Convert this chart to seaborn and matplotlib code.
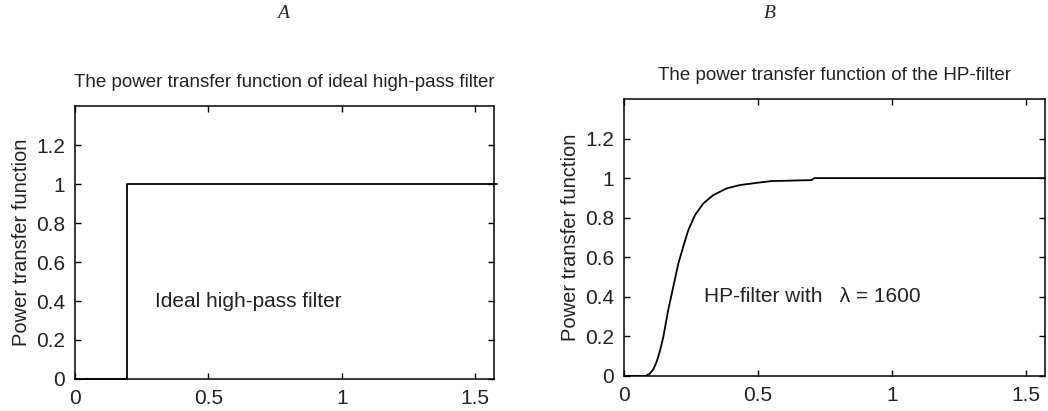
import matplotlib.pyplot as plt
import pandas as pd
import seaborn as sns

# Ideal high-pass filter (cut-off near pi/16)
ideal_freq = [0.0, 0.196, 0.196, 1.582]
ideal_power = [0.0, 0.0, 1.0, 1.0]

# HP-filter (lambda = 1600)
hp_freq = [0.0, 0.08, 0.095, 0.11, 0.122, 0.135, 0.147, 0.165, 0.184, 0.203,
           0.221, 0.240, 0.265, 0.296, 0.333, 0.383, 0.433, 0.495, 0.55, 0.70,
           0.71, 1.5708]
hp_power = [0.0, 0.0, 0.01, 0.035, 0.072, 0.13, 0.199, 0.333, 0.451, 0.569,
            0.653, 0.737, 0.813, 0.872, 0.914, 0.948, 0.965, 0.976, 0.985, 0.99,
            1.0, 1.0]

x_ticks = [0, 0.5, 1, 1.5]
x_tick_labels = ["0", "0.5", "1", "1.5"]
y_ticks = [0, 0.2, 0.4, 0.6, 0.8, 1.0, 1.2]
y_tick_labels = ["0", "0.2", "0.4", "0.6", "0.8", "1", "1.2"]

titles = ["The power transfer function of ideal high-pass filter",
          "The power transfer function of the HP-filter"]
notes = ["Ideal high-pass filter", "HP-filter with   \u03bb = 1600"]
panel_labels = ["A", "B"]


def style_axis(ax, title, note):
    ax.set_xlim(0, 1.5708)
    ax.set_ylim(0, 1.4)
    ax.set_xticks(x_ticks, x_tick_labels)
    ax.set_yticks(y_ticks, y_tick_labels)
    ax.tick_params(direction="in", length=4, width=1, top=True, right=True,
                   labelsize=15, colors="black", labelcolor="#222222", pad=7)
    for spine in ax.spines.values():
        spine.set_visible(True)
        spine.set_linewidth(1.1)
        spine.set_color("black")
    ax.set_xlabel("")
    ax.set_ylabel("Power transfer function", fontsize=14.5, color="#222222", labelpad=4)
    ax.set_title(title, fontsize=13.5, color="#222222", pad=14)
    ax.text(0.3, 0.4, note, fontsize=15, color="#222222", va="center", ha="left")


def main() -> None:
    sns.set_style("ticks")
    plt.rcParams["font.family"] = ["Liberation Sans", "DejaVu Sans"]

    fig = plt.figure(figsize=(10.48, 4.11), dpi=100)
    ax_a = fig.add_axes([0.0716, 0.0779, 0.3998, 0.664])
    ax_b = fig.add_axes([0.5954, 0.0852, 0.4017, 0.674])

    df_a = pd.DataFrame({"freq": ideal_freq, "power": ideal_power})
    df_b = pd.DataFrame({"freq": hp_freq, "power": hp_power})

    sns.lineplot(data=df_a, x="freq", y="power", ax=ax_a, color="black",
                 linewidth=1.3, sort=False, estimator=None, clip_on=False)
    sns.lineplot(data=df_b, x="freq", y="power", ax=ax_b, color="black",
                 linewidth=1.3, sort=False, estimator=None)

    style_axis(ax_a, titles[0], notes[0])
    style_axis(ax_b, titles[1], notes[1])

    fig.text(283 / 1048, 1 - 14 / 411, panel_labels[0], fontsize=14, style="italic",
             family="Liberation Serif", ha="center", va="center")
    fig.text(770 / 1048, 1 - 14 / 411, panel_labels[1], fontsize=14, style="italic",
             family="Liberation Serif", ha="center", va="center")

    fig.savefig("out.png", dpi=100)
    plt.close(fig)


if __name__ == "__main__":
    main()
